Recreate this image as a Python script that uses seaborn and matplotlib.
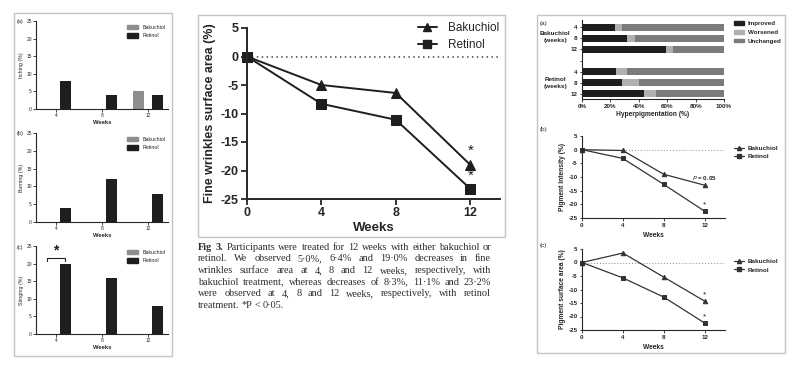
import matplotlib
matplotlib.use("Agg")
import matplotlib.pyplot as plt
import numpy as np
import pandas as pd
import seaborn as sns
from matplotlib.lines import Line2D
from matplotlib.patches import Patch, Rectangle

# ---------------- data ----------------
bar_weeks = ['4', '8', '12']
itch_bak = [0, 0, 5]
itch_ret = [8, 4, 4]
burn_bak = [0, 0, 0]
burn_ret = [4, 12, 8]
sting_bak = [0, 0, 0]
sting_ret = [20, 16, 8]

weeks = [0, 4, 8, 12]
wrinkle_bak = [0, -5.0, -6.4, -19.0]
wrinkle_ret = [0, -8.3, -11.1, -23.2]

hyper_rows = ['B4', 'B8', 'B12', 'gap', 'R4', 'R8', 'R12']
hyper_ticks = ['4', '8', '12', '', '4', '8', '12']
hyper_improved = [23, 32, 59, 24, 28, 44]
hyper_worsened = [5, 5, 5, 8, 12, 8]

intensity_bak = [0, -0.3, -9.0, -13.0]
intensity_ret = [0, -3.2, -12.7, -22.5]
area_bak = [0, 3.5, -5.4, -14.3]
area_ret = [0, -5.7, -12.8, -22.4]

caption = [
    "Fig 3. Participants were treated for 12 weeks with either bakuchiol or",
    "retinol. We observed 5\u00b70%, 6\u00b74% and 19\u00b70% decreases in fine",
    "wrinkles surface area at 4, 8 and 12 weeks, respectively, with",
    "bakuchiol treatment, whereas decreases of 8\u00b73%, 11\u00b71% and 23\u00b72%",
    "were observed at 4, 8 and 12 weeks, respectively, with retinol",
    "treatment. *P < 0\u00b705.",
]

# ---------------- setup ----------------
W, H = 800, 369
sns.set_style("ticks")
plt.rcParams['font.family'] = ['Liberation Sans', 'DejaVu Sans']
plt.rcParams['axes.unicode_minus'] = False
DARK = '#1e1e1e'
GRAY = '#8e8e8e'

fig = plt.figure(figsize=(W / 100, H / 100), dpi=100)


def px_axes(l, t, r, b):
    return fig.add_axes([l / W, 1 - b / H, (r - l) / W, (b - t) / H])


def px_box(l, t, r, b):
    fig.add_artist(Rectangle((l / W, 1 - b / H), (r - l) / W, (b - t) / H,
                             transform=fig.transFigure, fill=False,
                             edgecolor='#c4c4c4', linewidth=1))


px_box(14, 13, 172, 356)
px_box(198, 15, 505, 237)
px_box(537, 15, 785, 353)

# ---------------- left: adverse effects bars ----------------
left_specs = [
    ('(a)', 'Itching (%)', itch_bak, itch_ret, 21, 109),
    ('(b)', 'Burning (%)', burn_bak, burn_ret, 133, 222),
    ('(c)', 'Stinging (%)', sting_bak, sting_ret, 246, 334),
]
for tag, ylab, bak, ret, top, bot in left_specs:
    ax = px_axes(36, top, 168, bot)
    df = pd.DataFrame({'week': bar_weeks * 2, 'val': bak + ret,
                       'drug': ['Bakuchiol'] * 3 + ['Retinol'] * 3})
    sns.barplot(data=df, x='week', y='val', hue='drug', order=bar_weeks,
                hue_order=['Bakuchiol', 'Retinol'],
                palette={'Bakuchiol': GRAY, 'Retinol': DARK},
                width=0.8, gap=0.4, linewidth=0, ax=ax)
    ax.set_xlim(-0.43, 2.43)
    ax.set_ylim(0, 25)
    ax.set_yticks([0, 5, 10, 15, 20, 25])
    ax.tick_params(labelsize=3.5, length=2, width=0.6, pad=1)
    for s in ['left', 'bottom']:
        ax.spines[s].set_linewidth(0.8)
    sns.despine(ax=ax)
    ax.set_ylabel(ylab, fontsize=3.8, labelpad=2)
    ax.set_xlabel('Weeks', fontsize=4.2, fontweight='bold', labelpad=1.5)
    handles = [Patch(color=GRAY), Patch(color=DARK)]
    ax.legend(handles, ['Bakuchiol', 'Retinol'], loc='upper left',
              bbox_to_anchor=(124 / W, 1 - 22 / H - (top - 21) / H),
              bbox_transform=fig.transFigure, borderpad=0,
              frameon=False, fontsize=3.8, handlelength=2.2, handleheight=0.9,
              labelspacing=0.7, handletextpad=0.9)
    fig.text(17 / W, 1 - (top + 1) / H, tag, fontsize=4, va='center')
    if tag == '(c)':
        ax.plot([-0.2, -0.2, 0.2, 0.2], [20.8, 21.6, 21.6, 20.8],
                color=DARK, lw=0.8)
        ax.text(0, 21.8, '*', fontsize=10, ha='center', va='bottom',
                color=DARK, fontweight='bold')

# ---------------- middle: fine wrinkles ----------------
ax = px_axes(247, 28, 500, 199)
df = pd.DataFrame({'week': weeks * 2, 'val': wrinkle_bak + wrinkle_ret,
                   'drug': ['Bakuchiol'] * 4 + ['Retinol'] * 4})
ax.axhline(0, color='#444444', lw=1.1, ls=(0, (1, 2.2)))
sns.lineplot(data=df, x='week', y='val', hue='drug', style='drug',
             markers={'Bakuchiol': '^', 'Retinol': 's'}, dashes=False,
             palette={'Bakuchiol': DARK, 'Retinol': DARK},
             markersize=6.5, markeredgecolor=DARK, linewidth=1.4,
             clip_on=False, legend=False, ax=ax)
ax.set_xlim(0, 13.6)
ax.set_ylim(-25, 5)
ax.set_xticks(weeks)
ax.set_yticks([5, 0, -5, -10, -15, -20, -25])
ax.tick_params(labelsize=9, length=4, width=1.3, pad=2)
for lab in ax.get_xticklabels() + ax.get_yticklabels():
    lab.set_fontweight('bold')
for s in ['left', 'bottom']:
    ax.spines[s].set_linewidth(1.4)
sns.despine(ax=ax)
ax.set_ylabel('Fine wrinkles surface area (%)', fontsize=9, fontweight='bold', labelpad=3)
ax.set_xlabel('Weeks', fontsize=9.5, fontweight='bold', labelpad=2)
ax.text(12, wrinkle_bak[-1] + 1.2, '*', fontsize=11, ha='center', va='bottom', color=DARK)
ax.text(12, wrinkle_ret[-1] + 1.0, '*', fontsize=11, ha='center', va='bottom', color=DARK)
mh = [Line2D([], [], color=DARK, marker='^', markersize=5.5, lw=1.4),
      Line2D([], [], color=DARK, marker='s', markersize=5.5, lw=1.4)]
ax.legend(mh, ['Bakuchiol', 'Retinol'], loc='upper left',
          bbox_to_anchor=(418 / W, 1 - 22 / H), bbox_transform=fig.transFigure,
          frameon=False, fontsize=8.5, handlelength=1.6, labelspacing=0.4,
          handletextpad=0.9, borderpad=0, borderaxespad=0)

# caption, justified line by line
renderer = fig.canvas.get_renderer()
x0, x1 = 198, 491
for i, line in enumerate(caption):
    y = 1 - (247 + i * 11.7) / H
    words = line.split()
    texts = []
    for j, w in enumerate(words):
        weight = 'bold' if i == 0 and j < 2 else 'normal'
        texts.append(fig.text(0, y, w, fontsize=7.4, va='center', color='#2e2e2e',
                              family=['Liberation Serif', 'DejaVu Serif'],
                              fontweight=weight))
    widths = [t.get_window_extent(renderer).width for t in texts]
    if i < len(caption) - 1:
        gap = ((x1 - x0) - sum(widths)) / (len(words) - 1)
    else:
        gap = 2.3
    x = x0
    for t, wd in zip(texts, widths):
        t.set_x(x / W)
        x += wd + gap

# ---------------- right (a): hyperpigmentation stacked bars ----------------
C_IMP, C_WOR, C_UNC = '#1e1e1e', '#b0b0b0', '#7b7b7b'
ax = px_axes(582, 20, 724, 99)
rows = [r for r in hyper_rows if r != 'gap']
hdf = pd.DataFrame({'row': rows, 'imp': hyper_improved,
                    'wor': np.add(hyper_improved, hyper_worsened),
                    'tot': [100] * len(rows)})
for col, c in [('tot', C_UNC), ('wor', C_WOR), ('imp', C_IMP)]:
    sns.barplot(data=hdf, x=col, y='row', order=hyper_rows, orient='h',
                color=c, width=0.63, linewidth=0, ax=ax)
ax.set_xlim(0, 100)
ax.set_ylim(6.45, -0.63)
ax.set_yticks(range(len(hyper_rows)))
ax.set_yticklabels(hyper_ticks)
ax.set_xticks([0, 20, 40, 60, 80, 100])
ax.set_xticklabels(['0%', '20%', '40%', '60%', '80%', '100%'])
ax.tick_params(labelsize=4.5, length=1.8, width=0.6, pad=1.5)
for lab in ax.get_xticklabels() + ax.get_yticklabels():
    lab.set_fontweight('bold')
sns.despine(ax=ax)
ax.set_ylabel('')
ax.set_xlabel('Hyperpigmentation (%)', fontsize=4.8, fontweight='bold', labelpad=2)
fig.text(555 / W, 1 - 37 / H, 'Bakuchiol\n(weeks)', fontsize=4.6, fontweight='bold',
         ha='center', va='center', linespacing=1.3)
fig.text(555 / W, 1 - 83 / H, 'Retinol\n(weeks)', fontsize=4.6, fontweight='bold',
         ha='center', va='center', linespacing=1.3)
fig.text(540 / W, 1 - 23 / H, '(a)', fontsize=4.5, va='center')
ph = [Patch(color=C_IMP), Patch(color=C_WOR), Patch(color=C_UNC)]
ax.legend(ph, ['Improved', 'Worsened', 'Unchanged'], loc='upper left',
          bbox_to_anchor=(734 / W, 1 - 21 / H), bbox_transform=fig.transFigure,
          frameon=False, handlelength=1.6, handleheight=0.55,
          labelspacing=0.6, handletextpad=0.6, borderpad=0, borderaxespad=0,
          prop={'weight': 'bold', 'size': 4.5})

# ---------------- right (b), (c): pigment lines ----------------
right_specs = [
    ('(b)', 'Pigment intensity (%)', intensity_bak, intensity_ret, 136, 218, 130),
    ('(c)', 'Pigment surface area (%)', area_bak, area_ret, 249, 330, 245),
]
for tag, ylab, bak, ret, top, bot, tag_y in right_specs:
    ax = px_axes(582, top, 725, bot)
    df = pd.DataFrame({'week': weeks * 2, 'val': bak + ret,
                       'drug': ['Bakuchiol'] * 4 + ['Retinol'] * 4})
    ax.axhline(0, color='#888888', lw=0.7, ls=(0, (1, 2)))
    sns.lineplot(data=df, x='week', y='val', hue='drug', style='drug',
                 markers={'Bakuchiol': '^', 'Retinol': 's'}, dashes=False,
                 palette={'Bakuchiol': '#333333', 'Retinol': '#333333'},
                 markersize=3.2, markeredgecolor='#333333', linewidth=0.9,
                 clip_on=False, legend=False, ax=ax)
    ax.set_xlim(0, 14)
    ax.set_ylim(-25, 5)
    ax.set_xticks(weeks)
    ax.set_yticks([5, 0, -5, -10, -15, -20, -25])
    ax.tick_params(labelsize=4.5, length=1.8, width=0.6, pad=1.5)
    for lab in ax.get_xticklabels() + ax.get_yticklabels():
        lab.set_fontweight('bold')
    sns.despine(ax=ax)
    ax.set_ylabel(ylab, fontsize=4.8, fontweight='bold', labelpad=2)
    ax.set_xlabel('Weeks', fontsize=4.8, fontweight='bold', labelpad=3)
    fig.text(540 / W, 1 - tag_y / H, tag, fontsize=4.5, va='center')
    if tag == '(b)':
        ax.text(12, -10.4, '$\\mathit{P}$ = 0.05', fontsize=4.5, ha='center',
                va='center', fontweight='bold')
    else:
        ax.text(12, bak[-1] + 1.0, '*', fontsize=6, ha='center', va='bottom')
    ax.text(12, ret[-1] + 1.0, '*', fontsize=6, ha='center', va='bottom')
    lh = [Line2D([], [], color='#333333', marker='^', markersize=3, lw=0.9),
          Line2D([], [], color='#333333', marker='s', markersize=3, lw=0.9)]
    ax.legend(lh, ['Bakuchiol', 'Retinol'], loc='upper left',
              bbox_to_anchor=(734 / W, 1 - (top + 10) / H), bbox_transform=fig.transFigure,
              frameon=False, handlelength=1.6, labelspacing=0.4, handletextpad=0.6,
              borderpad=0, borderaxespad=0, prop={'weight': 'bold', 'size': 4.6})

fig.savefig('out.png', dpi=100)
